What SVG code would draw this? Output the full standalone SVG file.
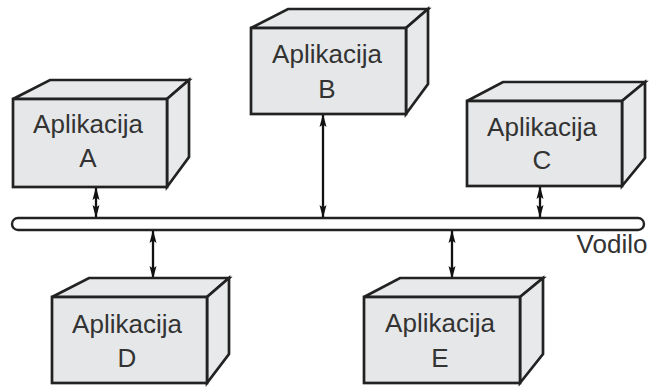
<svg xmlns="http://www.w3.org/2000/svg" width="650" height="388" viewBox="0 0 650 388">
  <defs>
    <style>
      .face { fill: #e5e7e8; stroke: #222; stroke-width: 2.7; stroke-linejoin: miter; }
      .side { fill: #e7e9ea; stroke: #222; stroke-width: 2.7; stroke-linejoin: miter; }
      .label { font-family: "Liberation Sans", Arial, sans-serif; font-size: 26px; fill: #333; text-anchor: middle; }
      .bus { fill: #fff; stroke: #222; stroke-width: 2.4; }
      .link { stroke: #111; stroke-width: 2.3; fill: none; marker-start: url(#head); marker-end: url(#head); }
    </style>
    <marker id="head" markerUnits="userSpaceOnUse" markerWidth="13" markerHeight="9" refX="12" refY="4.5" orient="auto-start-reverse" viewBox="0 0 13 9">
      <path d="M0,1 L13,4.5 L0,8 L2.5,4.5 Z" fill="#111"/>
    </marker>
  </defs>

  <!-- shared bus -->
  <g id="vodilo">
    <rect class="bus" x="12" y="218" width="632" height="12" rx="6" ry="6"/>
    <text class="label" x="612" y="253">Vodilo</text>
  </g>

  <!-- links between applications and the bus -->
  <g id="connectors">
    <line class="link" x1="96" y1="188" x2="96" y2="217"/>
    <line class="link" x1="323" y1="115" x2="323" y2="217"/>
    <line class="link" x1="540" y1="187" x2="540" y2="217"/>
    <line class="link" x1="153" y1="231" x2="153" y2="278"/>
    <line class="link" x1="452" y1="231" x2="452" y2="278"/>
  </g>

  <!-- application A -->
  <g id="app-a">
    <polygon class="side" points="13,99 50,80 189,80 167,99"/>
    <polygon class="side" points="167,99 189,80 189,157 167,187"/>
    <rect class="face" x="13" y="99" width="154" height="88"/>
    <text class="label" x="88" y="133">Aplikacija</text>
    <text class="label" x="88" y="167">A</text>
  </g>

  <!-- application B -->
  <g id="app-b">
    <polygon class="side" points="251,28 288,9 428,9 406,28"/>
    <polygon class="side" points="406,28 428,9 428,84 406,114"/>
    <rect class="face" x="251" y="28" width="155" height="86"/>
    <text class="label" x="327" y="63">Aplikacija</text>
    <text class="label" x="327" y="98">B</text>
  </g>

  <!-- application C -->
  <g id="app-c">
    <polygon class="side" points="467,101 503,82 645,82 622,101"/>
    <polygon class="side" points="622,101 645,82 645,158 622,186"/>
    <rect class="face" x="467" y="101" width="155" height="85"/>
    <text class="label" x="542" y="136">Aplikacija</text>
    <text class="label" x="542" y="169">C</text>
  </g>

  <!-- application D -->
  <g id="app-d">
    <polygon class="side" points="52,297 89,278 229,278 207,297"/>
    <polygon class="side" points="207,297 229,278 229,354 207,383"/>
    <rect class="face" x="52" y="297" width="155" height="86"/>
    <text class="label" x="127" y="333">Aplikacija</text>
    <text class="label" x="127" y="367">D</text>
  </g>

  <!-- application E -->
  <g id="app-e">
    <polygon class="side" points="364,297 400,278 543,278 520,297"/>
    <polygon class="side" points="520,297 543,278 543,354 520,383"/>
    <rect class="face" x="364" y="297" width="156" height="86"/>
    <text class="label" x="440" y="332">Aplikacija</text>
    <text class="label" x="440" y="367">E</text>
  </g>
</svg>
